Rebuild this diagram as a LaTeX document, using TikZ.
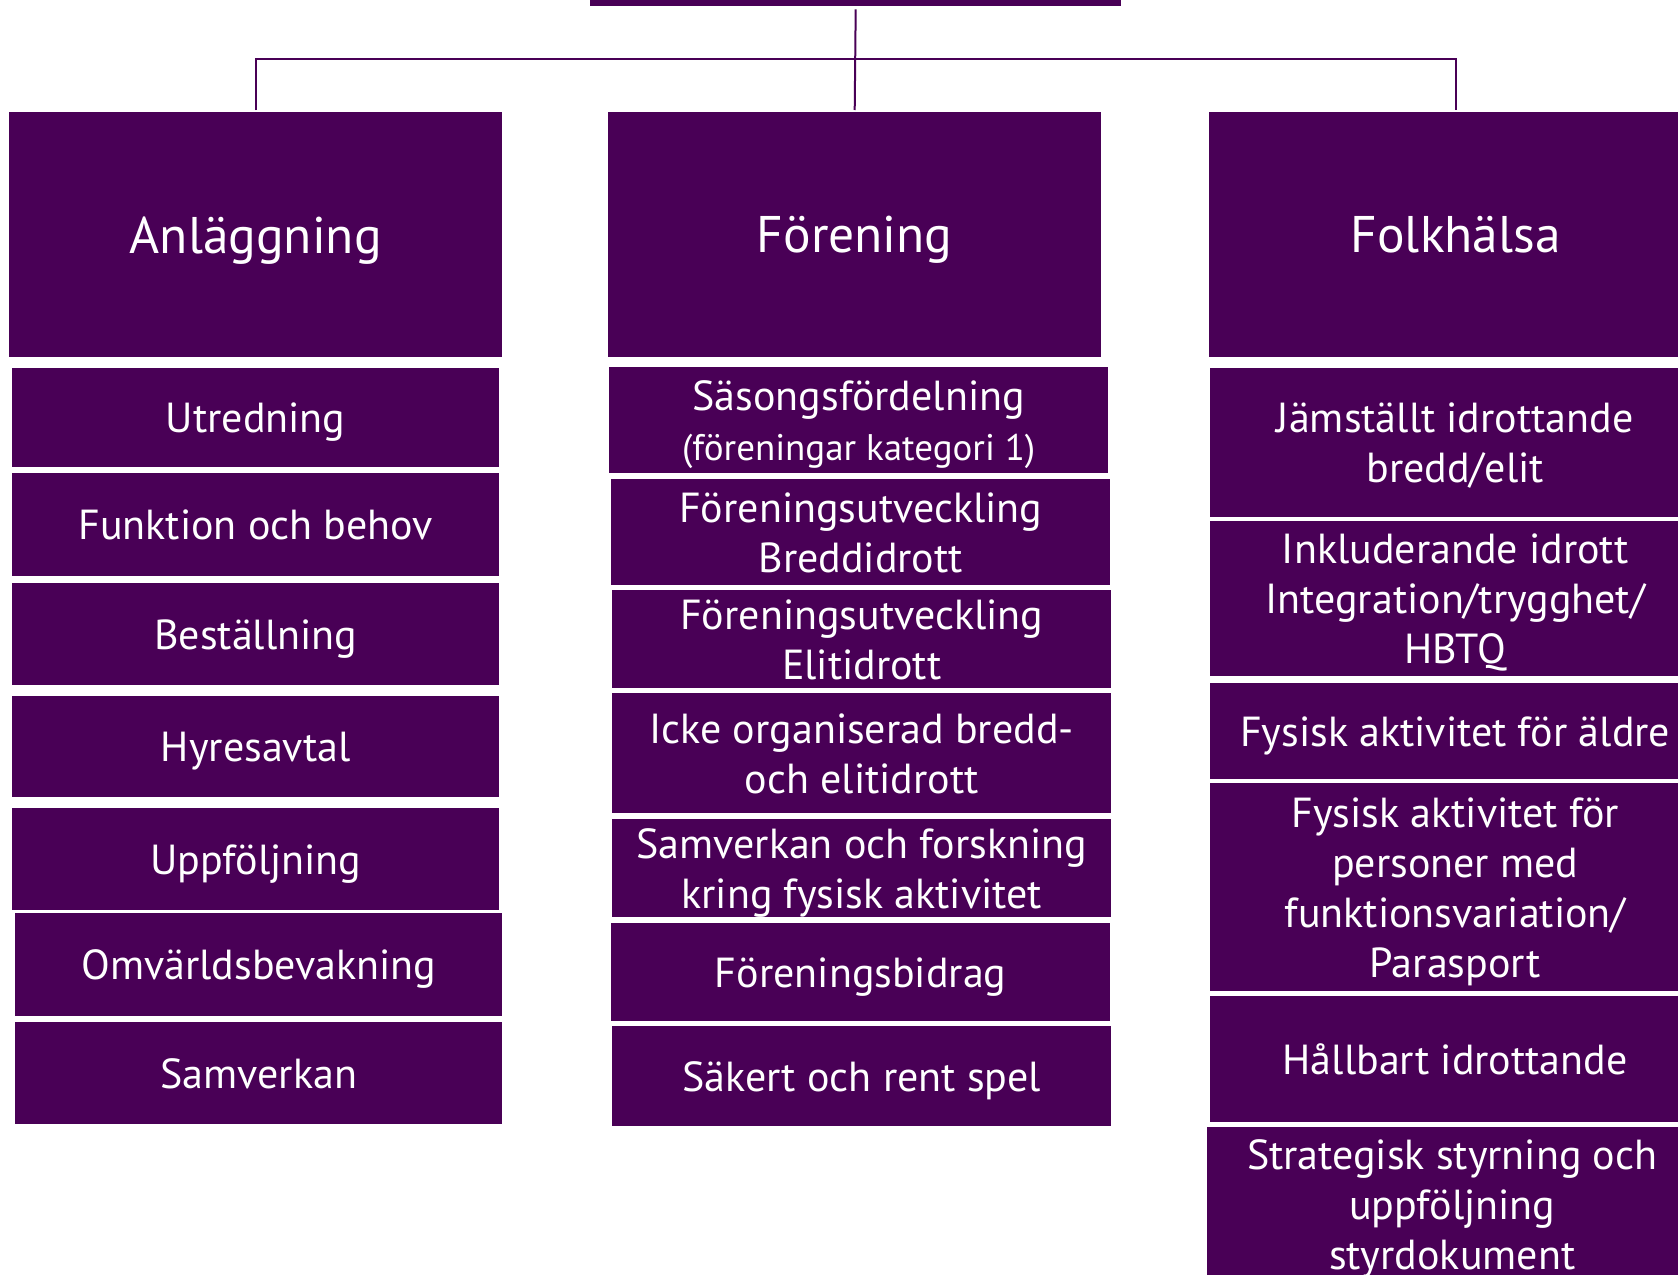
\documentclass[tikz,border=0pt]{standalone}
\usepackage{fontspec}
\setmainfont{PT Sans}
\usetikzlibrary{positioning}

\definecolor{plum}{RGB}{73,0,86}
\newcommand{\itemfont}{\fontsize{42}{50}\selectfont}
\newcommand{\headfont}{\fontsize{51.5}{60}\selectfont}
\newcommand{\notefont}{\fontsize{37}{44}\selectfont}

\begin{document}
\begin{tikzpicture}[x=1pt, y=-1pt,
  box/.style={fill=plum, text=white, align=center, inner sep=0pt, text depth=0pt, anchor=north west},
  head/.style={box, font=\headfont, minimum width=493, minimum height=245},
  lcell/.style={box, font=\itemfont, minimum width=487},
  mcell/.style={box, font=\itemfont, minimum width=499},
  rcell/.style={box, font=\itemfont, minimum width=490},
  conn/.style={draw=plum, line width=2pt}]

  \useasboundingbox (0,0) rectangle (1678,1274);
  \clip (0,0) rectangle (1678,1274);

  % top box, mostly cut off
  \node[box, minimum width=531, minimum height=66] (root) at (590,-60) {};

  % column heads
  \node[head] (anl) at (9,112) {Anläggning};
  \node[head] (foren) at (608,112) {Förening};
  \node[head] (folk) at (1209,112) {Folkhälsa};

  % left column
  \node[lcell, minimum height=99] (a1) at (12,368) {Utredning};
  \node[lcell, minimum height=103] (a2) at (12,473) {Funktion och behov};
  \node[lcell, minimum height=102] (a3) at (12,583) {Beställning};
  \node[lcell, minimum height=101] (a4) at (12,696) {Hyresavtal};
  \node[lcell, minimum height=102] (a5) at (12,808) {Uppföljning};
  \node[lcell, minimum height=103] (a6) at (15,913) {Omvärldsbevakning};
  \node[lcell, minimum height=102] (a7) at (15,1022) {Samverkan};

  % middle column
  \node[mcell, minimum height=106] (f1) at (609,367) {Säsongsfördelning\\{\notefont (föreningar kategori 1)}};
  \node[mcell, minimum height=106] (f2) at (611,479) {Föreningsutveckling\\Breddidrott};
  \node[mcell, minimum height=98] (f3) at (612,590) {Föreningsutveckling\\Elitidrott};
  \node[mcell, minimum height=120] (f4) at (612,693) {Icke organiserad bredd-\\och elitidrott};
  \node[mcell, minimum height=98] (f5) at (612,819) {Samverkan och forskning\\kring fysisk aktivitet};
  \node[mcell, minimum height=98] (f6) at (611,923) {Föreningsbidrag};
  \node[mcell, minimum height=100] (f7) at (612,1026) {Säkert och rent spel};

  % right column
  \node[rcell, minimum height=149] (h1) at (1210,368) {Jämställt idrottande\\bredd/elit};
  \node[rcell, minimum height=155] (h2) at (1210,521) {Inkluderande idrott\\Integration/trygghet/\\HBTQ};
  \node[rcell, minimum height=96] (h3) at (1210,683) {Fysisk aktivitet för äldre};
  \node[rcell, minimum height=208] (h4) at (1210,783) {Fysisk aktivitet för\\personer med\\funktionsvariation/\\Parasport};
  \node[rcell, minimum height=126] (h5) at (1210,996) {Hållbart idrottande};
  \node[rcell, minimum height=154] (h6) at (1207,1127) {Strategisk styrning och\\uppföljning\\styrdokument};

  % connectors
  \coordinate (hub) at (855,59);
  \draw[conn] ([yshift=-3pt]root.south) -- ([yshift=2pt]foren.north);
  \draw[conn] ([yshift=2pt]anl.north) |- (hub) -| ([yshift=2pt]folk.north);
\end{tikzpicture}
\end{document}
